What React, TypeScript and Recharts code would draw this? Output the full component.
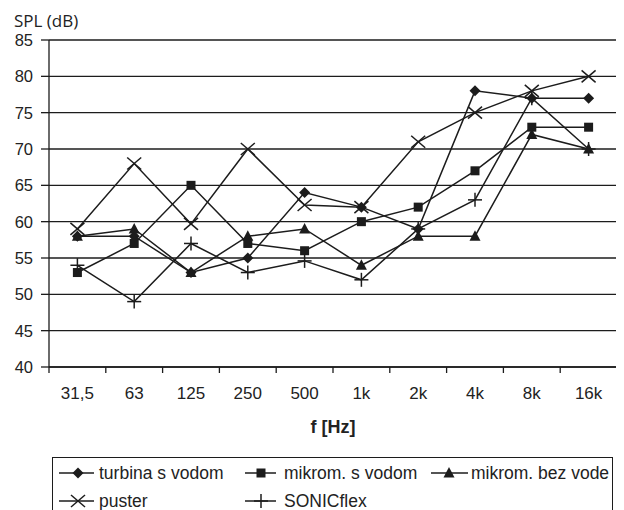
import React from 'react';
import { LineChart, Line, XAxis, YAxis, CartesianGrid, Legend } from 'recharts';

const categories = ['31,5', '63', '125', '250', '500', '1k', '2k', '4k', '8k', '16k'];
const turbinaSVodom = [58, 58, 53, 55, 64, 62, 59, 78, 77, 77];
const mikromSVodom = [53, 57, 65, 57, 56, 60, 62, 67, 73, 73];
const mikromBezVode = [58, 59, 53, 58, 59, 54, 58, 58, 72, 70];
const puster = [59, 68, 59.7, 70, 62.3, 62, 71, 75, 78, 80];
const sonicflex = [54, 49, 57, 53, 54.6, 52, 59, 63, 77, 70];
const yTicks = [40, 45, 50, 55, 60, 65, 70, 75, 80, 85];

const seriesDefs = [
  { key: 'turbina', name: 'turbina s vodom', values: turbinaSVodom, shape: 'diamond' },
  { key: 'mikromS', name: 'mikrom. s vodom', values: mikromSVodom, shape: 'square' },
  { key: 'mikromB', name: 'mikrom. bez vode', values: mikromBezVode, shape: 'triangle' },
  { key: 'puster', name: 'puster', values: puster, shape: 'cross' },
  { key: 'sonic', name: 'SONICflex', values: sonicflex, shape: 'plus' },
];

const data = categories.map((c, i) => {
  const row: any = { f: c };
  seriesDefs.forEach((s) => { row[s.key] = s.values[i]; });
  return row;
});

const W = 616;
const H = 502;
const MARGIN = { top: 32, right: 7, left: 0, bottom: 0 };
const YAXIS_W = 41;
const XAXIS_H = 143;
const PLOT_LEFT = MARGIN.left + YAXIS_W;
const PLOT_RIGHT = W - MARGIN.right;
const PLOT_BOTTOM = H - MARGIN.bottom - XAXIS_H;
const HALF_BAND = (PLOT_RIGHT - PLOT_LEFT) / categories.length / 2;
const INK = '#1c1c1c';
const SANS = '"Liberation Sans", Arial, sans-serif';

function Marker({ shape, cx, cy }: { shape: string; cx: number; cy: number }) {
  if (cx == null || cy == null) return null;
  switch (shape) {
    case 'diamond':
      return <polygon points={`${cx},${cy - 5.5} ${cx + 5.5},${cy} ${cx},${cy + 5.5} ${cx - 5.5},${cy}`} fill={INK} />;
    case 'square':
      return <rect x={cx - 4.5} y={cy - 4.5} width={9} height={9} fill={INK} />;
    case 'triangle':
      return <polygon points={`${cx},${cy - 6} ${cx + 5.5},${cy + 4.5} ${cx - 5.5},${cy + 4.5}`} fill={INK} />;
    case 'cross':
      return (
        <g stroke={INK} strokeWidth={1.5}>
          <line x1={cx - 7} y1={cy - 6} x2={cx + 7} y2={cy + 6} />
          <line x1={cx - 7} y1={cy + 6} x2={cx + 7} y2={cy - 6} />
        </g>
      );
    case 'plus':
      return (
        <g stroke={INK} strokeWidth={1.5}>
          <line x1={cx - 7} y1={cy} x2={cx + 7} y2={cy} />
          <line x1={cx} y1={cy - 7} x2={cx} y2={cy + 7} />
        </g>
      );
    default:
      return null;
  }
}

function XTick(props: any) {
  const { payload, index } = props;
  const x = payload.coordinate;
  const last = index === categories.length - 1;
  return (
    <g>
      <line x1={x - HALF_BAND} y1={PLOT_BOTTOM} x2={x - HALF_BAND} y2={PLOT_BOTTOM + 6} stroke={INK} strokeWidth={1.3} />
      {last && (
        <line x1={x + HALF_BAND} y1={PLOT_BOTTOM} x2={x + HALF_BAND} y2={PLOT_BOTTOM + 6} stroke={INK} strokeWidth={1.3} />
      )}
      <text x={x} y={PLOT_BOTTOM + 26} textAnchor="middle" dominantBaseline="central" fontSize={17} fontFamily={SANS} fill="#222">
        {payload.value}
      </text>
    </g>
  );
}

function LegendBox() {
  const cols = [
    { line: [6, 41], mark: 25, text: 46 },
    { line: [192, 223], mark: 208, text: 231 },
    { line: [378, 415], mark: 396, text: 418 },
  ];
  const placement = [
    { row: 0, col: 0 },
    { row: 0, col: 1 },
    { row: 0, col: 2 },
    { row: 1, col: 0 },
    { row: 1, col: 1 },
  ];
  return (
    <div style={{ position: 'relative', width: 561, height: 64, border: `1.3px solid ${INK}`, boxSizing: 'border-box', background: '#fff' }}>
      {seriesDefs.map((s, i) => {
        const p = placement[i];
        const c = cols[p.col];
        const top = 1 + p.row * 28;
        return (
          <div key={s.key} style={{ position: 'absolute', left: 0, top, height: 28, width: '100%' }}>
            <svg width={c.text} height={28} style={{ position: 'absolute', left: 0, top: 0 }}>
              <line x1={c.line[0]} y1={14} x2={c.line[1]} y2={14} stroke={INK} strokeWidth={1.5} />
              <Marker shape={s.shape} cx={c.mark} cy={14} />
            </svg>
            <span style={{ position: 'absolute', left: c.text, top: 0, lineHeight: '28px', fontSize: 17.5, fontFamily: SANS, color: '#222', whiteSpace: 'nowrap' }}>
              {s.name}
            </span>
          </div>
        );
      })}
    </div>
  );
}

export default function App() {
  return (
    <div style={{ width: W, height: H }}>
      <LineChart width={W} height={H} data={data} margin={MARGIN}>
        <CartesianGrid horizontal vertical={false} stroke={INK} strokeWidth={1.3} />
        <XAxis
          dataKey="f"
          height={XAXIS_H}
          padding={{ left: HALF_BAND, right: HALF_BAND }}
          axisLine={{ stroke: INK, strokeWidth: 1.3 }}
          tickLine={false}
          tick={<XTick />}
          interval={0}
          label={{ value: 'f [Hz]', position: 'insideTop', offset: 53, fontSize: 18, fontWeight: 'bold', fontFamily: SANS, fill: '#222' }}
        />
        <YAxis
          width={YAXIS_W}
          domain={[40, 85]}
          ticks={yTicks}
          interval={0}
          tickSize={8}
          tickMargin={8}
          axisLine={{ stroke: INK, strokeWidth: 1.3 }}
          tickLine={{ stroke: INK, strokeWidth: 1.3 }}
          tick={{ fontSize: 16.5, fontFamily: SANS, fill: '#222' }}
          label={{
            content: () => (
              <text x={6} y={12} dominantBaseline="central" fontSize={17} fontFamily='"Open Sans", sans-serif' fill="#222">
                SPL (dB)
              </text>
            ),
          }}
        />
        <YAxis
          yAxisId="right"
          orientation="right"
          width={0}
          tick={false}
          tickLine={false}
          axisLine={{ stroke: INK, strokeWidth: 1.3 }}
        />
        <Legend
          layout="vertical"
          align="center"
          verticalAlign="middle"
          wrapperStyle={{ left: 44, top: 449, width: 561 }}
          content={() => <LegendBox />}
        />
        {seriesDefs.map((s) => (
          <Line
            key={s.key}
            type="linear"
            dataKey={s.key}
            name={s.name}
            stroke={INK}
            strokeWidth={1.5}
            isAnimationActive={false}
            dot={(p: any) => <Marker key={`${s.key}-${p.index}`} shape={s.shape} cx={p.cx} cy={p.cy} />}
            activeDot={false}
          />
        ))}
      </LineChart>
    </div>
  );
}
